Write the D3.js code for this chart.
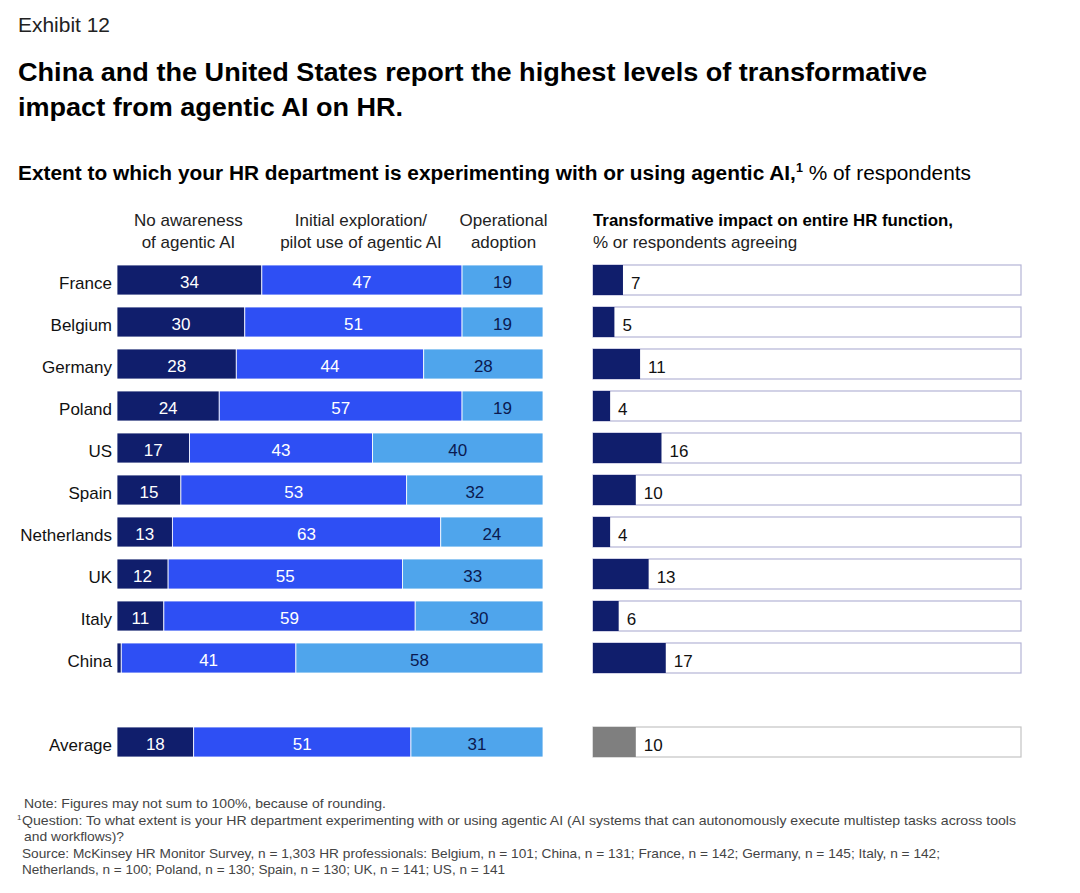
<!DOCTYPE html>
<html><head><meta charset="utf-8">
<script src="https://cdn.jsdelivr.net/npm/d3@7"></script>
<style>body{margin:0;background:#fff}svg{display:block;font-family:"Liberation Sans",Arial,sans-serif}</style>
</head><body><svg id="c" width="1080" height="893"></svg>
<script>
const countries = ["France","Belgium","Germany","Poland","US","Spain","Netherlands","UK","Italy","China","Average"];
const noAwareness = [34,30,28,24,17,15,13,12,11,1,18];
const pilotUse    = [47,51,44,57,43,53,63,55,59,41,51];
const operational = [19,19,28,19,40,32,24,33,30,58,31];
const transformative = [7,5,11,4,16,10,4,13,6,17,10];
const seriesNames = [["No awareness","of agentic AI"],["Initial exploration/","pilot use of agentic AI"],["Operational","adoption"]];

const svg = d3.select("#c");
const colors = ["#101e6c","#2e4ff4","#4fa5ec"];
const textColors = ["#fff","#fff","#0b1a50"];

const rows = countries.slice(0,10).concat([" ","Average"]);
const y = d3.scaleBand().domain(rows).range([259,763]).paddingInner(12/42).paddingOuter(6/42);
const xL = d3.scaleLinear().domain([0,100]).range([117,543]);
const xR = d3.scaleLinear().domain([0,100]).range([593,1021]);

// titles
svg.append("text").attr("x",18).attr("y",32).attr("font-size",20).attr("fill","#222").text("Exhibit 12")
  .attr("textLength",92).attr("lengthAdjust","spacingAndGlyphs");
svg.append("text").attr("x",18).attr("y",81).attr("font-size",26).attr("font-weight","bold").attr("fill","#000")
  .text("China and the United States report the highest levels of transformative")
  .attr("textLength",909).attr("lengthAdjust","spacingAndGlyphs");
svg.append("text").attr("x",18).attr("y",116).attr("font-size",26).attr("font-weight","bold").attr("fill","#000")
  .text("impact from agentic AI on HR.")
  .attr("textLength",385).attr("lengthAdjust","spacingAndGlyphs");
const sub = svg.append("text").attr("x",18).attr("y",180).attr("font-size",20).attr("fill","#000")
  .attr("textLength",953).attr("lengthAdjust","spacingAndGlyphs");
sub.append("tspan").attr("font-weight","bold").text("Extent to which your HR department is experimenting with or using agentic AI,");
sub.append("tspan").attr("font-size",12).attr("dy",-8).attr("font-weight","bold").text("1");
sub.append("tspan").attr("dy",8).text(" % of respondents");

// column headers
const stacked = countries.map((c,i)=>({c, v:[noAwareness[i],pilotUse[i],operational[i]]}));
const fr = stacked[0].v;
let acc=0;
const headerCenters = fr.map(v=>{const m = acc+v/2; acc+=v; return xL(m);});
seriesNames.forEach((lines,k)=>{
  lines.forEach((t,j)=>{
    svg.append("text").attr("x",headerCenters[k]+ (k===2?1:-1)).attr("y",226+j*22).attr("text-anchor","middle")
      .attr("font-size",17).attr("fill","#222").text(t);
  });
});
svg.append("text").attr("x",593).attr("y",226).attr("font-size",17).attr("font-weight","bold").attr("fill","#000")
  .text("Transformative impact on entire HR function,").attr("textLength",360).attr("lengthAdjust","spacingAndGlyphs");
svg.append("text").attr("x",593).attr("y",248).attr("font-size",17).attr("fill","#222").text("% or respondents agreeing");

// country labels
svg.append("g").selectAll("text").data(countries).join("text")
  .attr("x",112).attr("y",d=>y(d)+y.bandwidth()/2+9).attr("text-anchor","end")
  .attr("font-size",17).attr("fill","#111").text(d=>d);

// stacked bars
const stack = d3.stack().keys([0,1,2]).value((d,k)=>d.v[k]);
const layers = stack(stacked);
layers.forEach((layer,k)=>{
  const g = svg.append("g");
  g.selectAll("rect").data(layer).join("rect")
    .attr("x",d=>xL(d[0])).attr("y",d=>y(d.data.c)).attr("width",d=>xL(d[1])-xL(d[0]))
    .attr("height",y.bandwidth()).attr("fill",colors[k]).attr("stroke","#fff").attr("stroke-width",0.8);
  g.selectAll("text").data(layer.filter(d=>d.data.v[k]>=5)).join("text")
    .attr("x",d=>xL((d[0]+d[1])/2)).attr("y",d=>y(d.data.c)+y.bandwidth()/2+8)
    .attr("text-anchor","middle").attr("font-size",17).attr("fill",textColors[k]).text(d=>d.data.v[k]);
});

// right panel
const rg = svg.append("g");
countries.forEach((c,i)=>{
  const avg = c==="Average";
  rg.append("rect").attr("x",xR(0)).attr("y",y(c)).attr("width",xR(100)-xR(0)).attr("height",y.bandwidth())
    .attr("fill","#fff").attr("stroke",avg?"#c4c4c4":"#b4b4d6").attr("stroke-width",1.2);
  rg.append("rect").attr("x",xR(0)).attr("y",y(c)).attr("width",xR(transformative[i])-xR(0)).attr("height",y.bandwidth())
    .attr("fill",avg?"#7f7f7f":"#101e6c");
  rg.append("text").attr("x",xR(transformative[i])+8).attr("y",y(c)+y.bandwidth()/2+9)
    .attr("font-size",17).attr("fill","#111").text(transformative[i]);
});

// footnotes
const notes = [
  [24,808,"Note: Figures may not sum to 100%, because of rounding.",362],
  [22,825,"Question: To what extent is your HR department experimenting with or using agentic AI (AI systems that can autonomously execute multistep tasks across tools",994],
  [24,841,"and workflows)?",100],
  [22,858,"Source: McKinsey HR Monitor Survey, n = 1,303 HR professionals: Belgium, n = 101; China, n = 131; France, n = 142; Germany, n = 145; Italy, n = 142;",918],
  [22,874,"Netherlands, n = 100; Poland, n = 130; Spain, n = 130; UK, n = 141; US, n = 141",483]
];
notes.forEach(([x,yy,t,w])=>{
  svg.append("text").attr("x",x).attr("y",yy).attr("font-size",13).attr("fill","#444").text(t)
    .attr("textLength",w).attr("lengthAdjust","spacingAndGlyphs");
});
svg.append("text").attr("x",17).attr("y",820).attr("font-size",8).attr("fill","#444").text("1");
</script></body></html>
